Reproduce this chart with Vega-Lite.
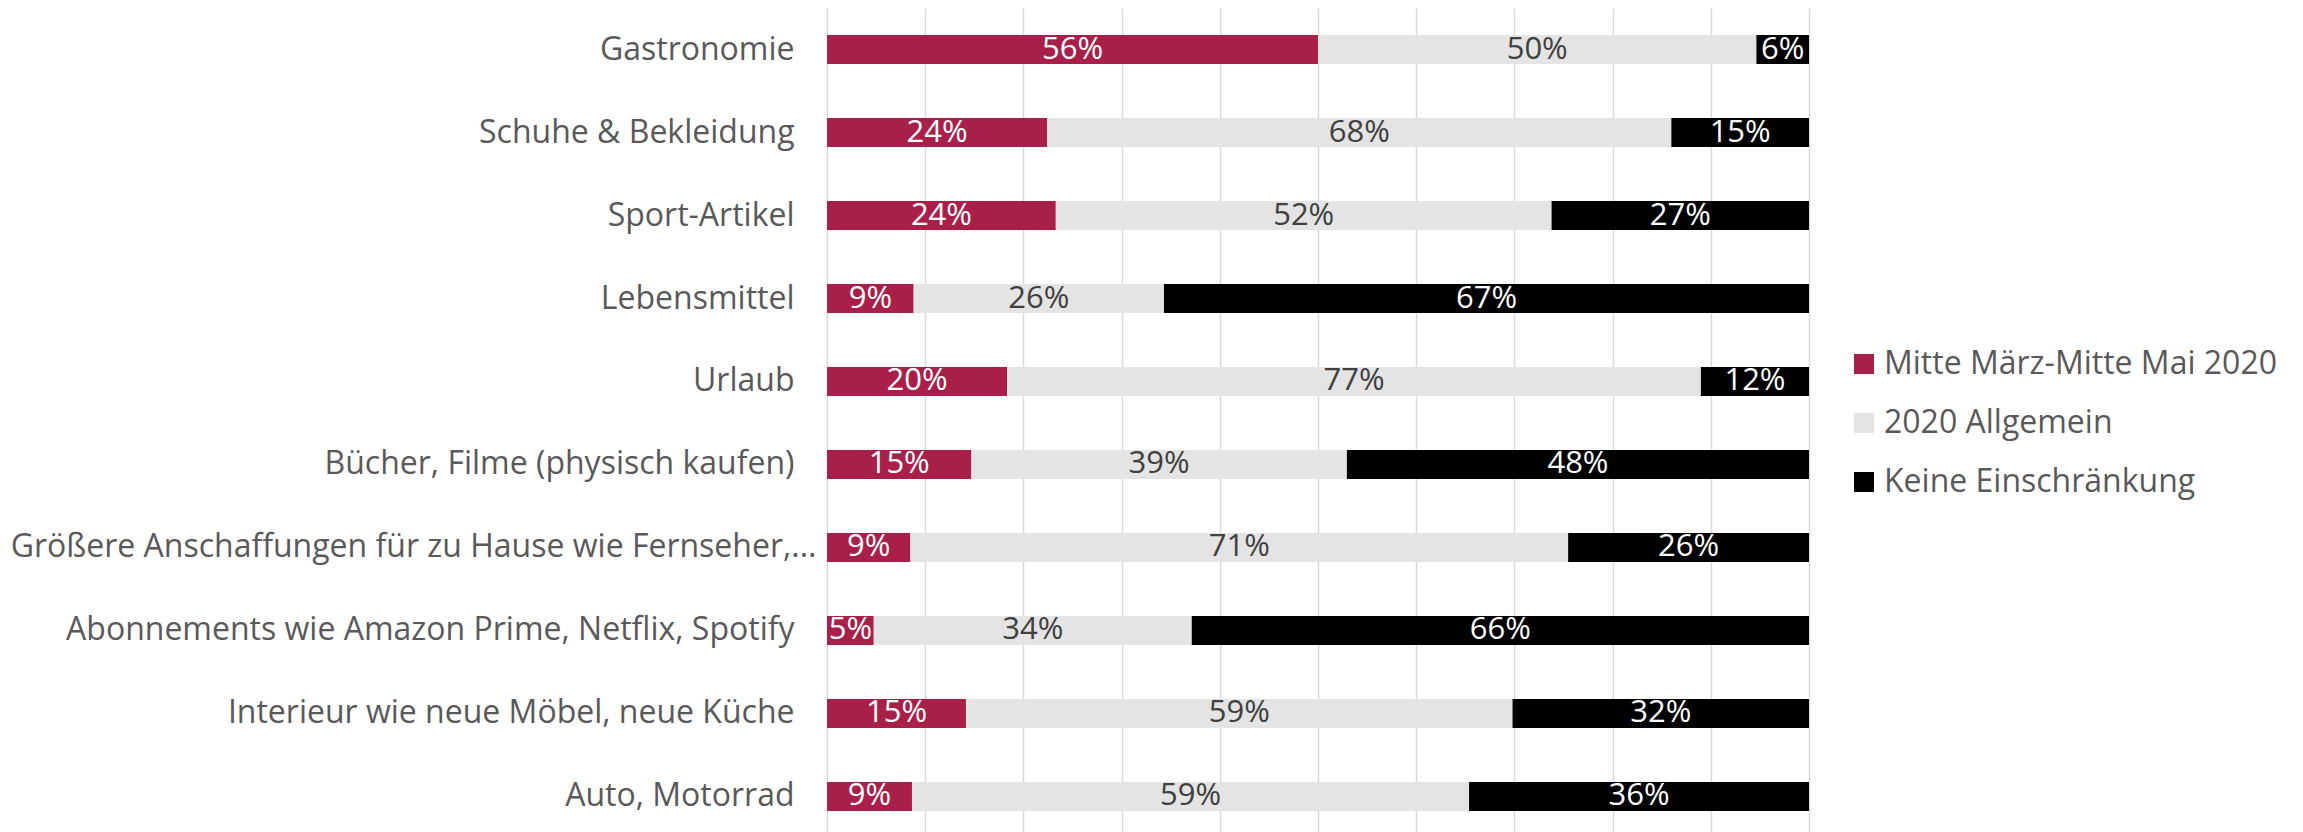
{
  "$schema": "https://vega.github.io/schema/vega-lite/v6.json",
  "width": 982,
  "height": 824,
  "autosize": {"type": "none"},
  "padding": {"left": 827, "top": 8, "right": 494, "bottom": 0},
  "background": "white",
  "config": {"view": {"stroke": null}, "font": "Open Sans"},
  "data": {"values": [
    {"cat": "Gastronomie", "s": "Mitte März-Mitte Mai 2020", "v": 56},
    {"cat": "Gastronomie", "s": "2020 Allgemein", "v": 50},
    {"cat": "Gastronomie", "s": "Keine Einschränkung", "v": 6},
    {"cat": "Schuhe & Bekleidung", "s": "Mitte März-Mitte Mai 2020", "v": 24},
    {"cat": "Schuhe & Bekleidung", "s": "2020 Allgemein", "v": 68},
    {"cat": "Schuhe & Bekleidung", "s": "Keine Einschränkung", "v": 15},
    {"cat": "Sport-Artikel", "s": "Mitte März-Mitte Mai 2020", "v": 24},
    {"cat": "Sport-Artikel", "s": "2020 Allgemein", "v": 52},
    {"cat": "Sport-Artikel", "s": "Keine Einschränkung", "v": 27},
    {"cat": "Lebensmittel", "s": "Mitte März-Mitte Mai 2020", "v": 9},
    {"cat": "Lebensmittel", "s": "2020 Allgemein", "v": 26},
    {"cat": "Lebensmittel", "s": "Keine Einschränkung", "v": 67},
    {"cat": "Urlaub", "s": "Mitte März-Mitte Mai 2020", "v": 20},
    {"cat": "Urlaub", "s": "2020 Allgemein", "v": 77},
    {"cat": "Urlaub", "s": "Keine Einschränkung", "v": 12},
    {"cat": "Bücher, Filme (physisch kaufen)", "s": "Mitte März-Mitte Mai 2020", "v": 15},
    {"cat": "Bücher, Filme (physisch kaufen)", "s": "2020 Allgemein", "v": 39},
    {"cat": "Bücher, Filme (physisch kaufen)", "s": "Keine Einschränkung", "v": 48},
    {"cat": "Größere Anschaffungen für zu Hause wie Fernseher,...", "s": "Mitte März-Mitte Mai 2020", "v": 9},
    {"cat": "Größere Anschaffungen für zu Hause wie Fernseher,...", "s": "2020 Allgemein", "v": 71},
    {"cat": "Größere Anschaffungen für zu Hause wie Fernseher,...", "s": "Keine Einschränkung", "v": 26},
    {"cat": "Abonnements wie Amazon Prime, Netflix, Spotify", "s": "Mitte März-Mitte Mai 2020", "v": 5},
    {"cat": "Abonnements wie Amazon Prime, Netflix, Spotify", "s": "2020 Allgemein", "v": 34},
    {"cat": "Abonnements wie Amazon Prime, Netflix, Spotify", "s": "Keine Einschränkung", "v": 66},
    {"cat": "Interieur wie neue Möbel, neue Küche", "s": "Mitte März-Mitte Mai 2020", "v": 15},
    {"cat": "Interieur wie neue Möbel, neue Küche", "s": "2020 Allgemein", "v": 59},
    {"cat": "Interieur wie neue Möbel, neue Küche", "s": "Keine Einschränkung", "v": 32},
    {"cat": "Auto, Motorrad", "s": "Mitte März-Mitte Mai 2020", "v": 9},
    {"cat": "Auto, Motorrad", "s": "2020 Allgemein", "v": 59},
    {"cat": "Auto, Motorrad", "s": "Keine Einschränkung", "v": 36}
  ]},
  "transform": [
    {"stack": "v", "groupby": ["cat"], "offset": "normalize", "as": ["x0", "x1"]},
    {"calculate": "(datum.x0 + datum.x1) / 2", "as": "xm"}
  ],
  "encoding": {
    "y": {
      "field": "cat",
      "type": "nominal",
      "sort": null,
      "scale": {"paddingInner": 0.65, "paddingOuter": 0.289, "align": 0.5625},
      "axis": {
        "title": null,
        "domain": false,
        "ticks": false,
        "grid": false,
        "labelPadding": {"condition": {"test": "indexof(datum.value, 'Größere') === 0", "value": 11}, "value": 33},
        "labelFontSize": 32,
        "labelColor": "#595959",
        "labelFont": "Open Sans",
        "labelLimit": 0
      }
    }
  },
  "layer": [
    {
      "mark": {"type": "bar"},
      "encoding": {
        "x": {
          "field": "x0",
          "type": "quantitative",
          "scale": {"domain": [0, 1], "nice": false, "zero": true},
          "axis": {
            "title": null,
            "labels": false,
            "ticks": false,
            "domain": false,
            "grid": true,
            "gridColor": "#D9D9D9",
            "gridWidth": 1.5,
            "values": [0, 0.1, 0.2, 0.3, 0.4, 0.5, 0.6, 0.7, 0.8, 0.9, 1]
          }
        },
        "x2": {"field": "x1"},
        "color": {
          "field": "s",
          "type": "nominal",
          "scale": {
            "domain": ["Mitte März-Mitte Mai 2020", "2020 Allgemein", "Keine Einschränkung"],
            "range": ["#A8204A", "#E4E4E4", "#000000"]
          },
          "legend": {
            "orient": "none",
            "legendX": 1021,
            "legendY": 340,
            "title": null,
            "padding": 0,
            "labelFont": "Open Sans",
            "labelFontSize": 32,
            "labelColor": "#595959",
            "labelLimit": 0,
            "symbolType": "square",
            "symbolSize": 400,
            "symbolStrokeWidth": 0,
            "labelOffset": 4,
            "rowPadding": 27
          }
        }
      }
    },
    {
      "mark": {
        "type": "text",
        "text": {"expr": "datum.v + '%'"},
        "font": "Open Sans",
        "fontSize": 31,
        "align": "center",
        "baseline": "middle"
      },
      "encoding": {
        "x": {"field": "xm", "type": "quantitative"},
        "color": {
          "condition": {"test": "datum.s === '2020 Allgemein'", "value": "#404040"},
          "value": "#FFFFFF"
        }
      }
    }
  ]
}
